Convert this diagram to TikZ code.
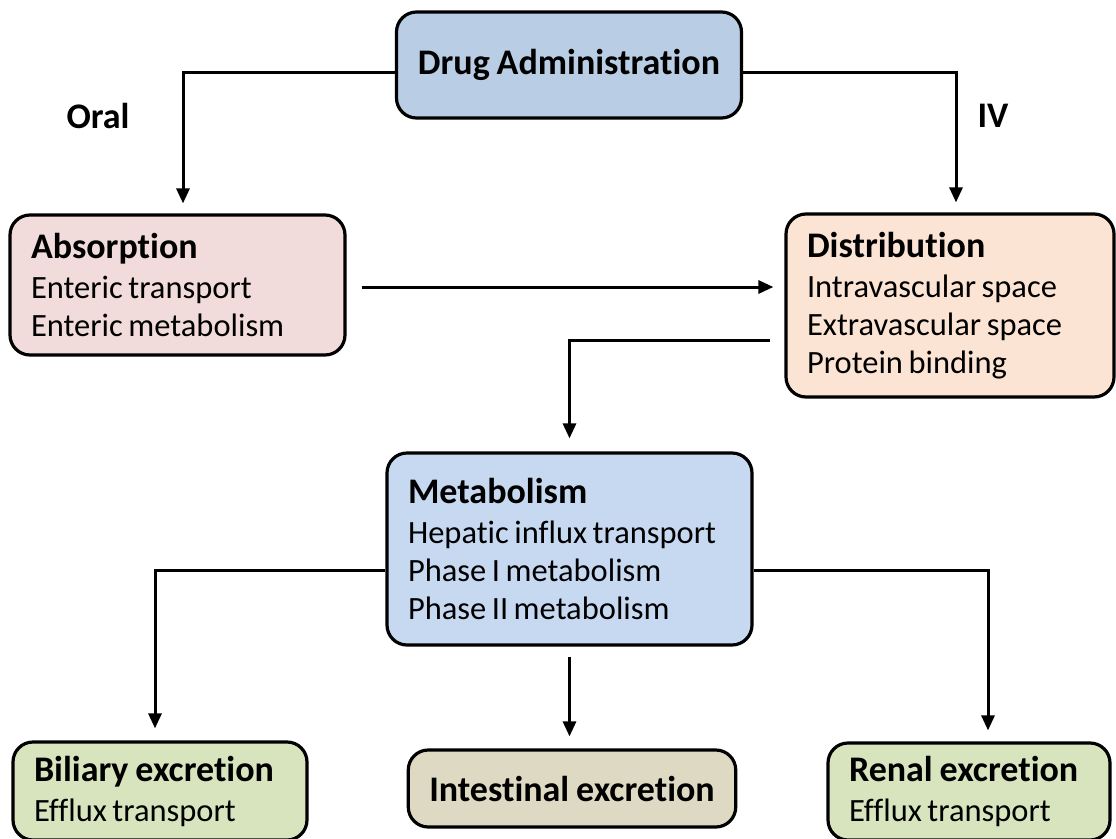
\documentclass[tikz,border=0pt]{standalone}
\usepackage{fontspec}
\setmainfont{Carlito}[Ligatures=NoCommon, WordSpace=0.85]
\usetikzlibrary{arrows.meta,calc}

\definecolor{admfill}{HTML}{B9CDE5}
\definecolor{absfill}{HTML}{F2DCDB}
\definecolor{disfill}{HTML}{FCE4D4}
\definecolor{metfill}{HTML}{C6D9F1}
\definecolor{excfill}{HTML}{D7E4BD}
\definecolor{intfill}{HTML}{DDD9C3}

\newcommand\dgtitle{\fontsize{36}{40}\selectfont\bfseries\spaceskip=0pt\xspaceskip=0pt\relax}
\newcommand\dgbody{\fontsize{32.5}{38}\selectfont}
% tight word spacing for the item lines of a box
\newcommand\tightsp{\spaceskip=0.17em\relax}

\begin{document}
\begin{tikzpicture}[x=1pt,y=-1pt,
  box/.style={draw=black, line width=3.2pt, rounded corners=20pt,
    inner xsep=21pt, inner ysep=0pt, align=left, font=\dgbody},
  headbox/.style={box, align=center, font=\dgtitle},
  flow/.style={line width=3pt, -{Triangle[length=15pt,width=13pt]}},
  lbl/.style={font=\dgtitle, inner sep=0pt}]

\useasboundingbox (0,0) rectangle (1116,838);

% boxes
\node[headbox, fill=admfill, minimum width=345pt, minimum height=106pt] (adm) at (569,65) {Drug Administration};

\node[box, fill=absfill, text width=293pt, minimum height=140pt] (abs) at (177.5,285)
  {\tightsp{\dgtitle Absorption}\\[2pt]Enteric transport\\Enteric metabolism};

\node[box, fill=disfill, text width=286pt, minimum height=183pt] (dis) at (950,305.5)
  {\tightsp{\dgtitle Distribution}\\[2pt]Intravascular space\\Extravascular space\\Protein binding};

\node[box, fill=metfill, text width=323pt, minimum height=192pt] (met) at (569.5,549)
  {\tightsp{\dgtitle Metabolism}\\[2pt]Hepatic influx transport\\Phase I metabolism\\Phase II metabolism};

\node[box, fill=excfill, text width=252pt, minimum height=98pt] (bil) at (160,791)
  {\tightsp{\dgtitle Biliary excretion}\\[2pt]Efflux transport};

\node[headbox, fill=intfill, minimum width=320pt, minimum height=77pt] (int) at (572,788.5) {Intestinal excretion};

\node[box, fill=excfill, text width=240pt, minimum height=97pt] (ren) at (969,791.5)
  {\tightsp{\dgtitle Renal excretion}\\[2pt]Efflux transport};

% route labels
\node[lbl] (oral) at (98,116) {Oral};
\node[lbl] (iv) at (993,116) {IV};

% bend points
\coordinate (admL) at ($(adm.west)+(0,7)$);
\coordinate (admR) at ($(adm.east)+(0,7)$);
\coordinate (disL) at ($(dis.west)+(-14,34.5)$);
\coordinate (metL) at ($(met.west)+(0,21)$);
\coordinate (metR) at ($(met.east)+(0,21)$);

% connectors
\draw[flow] (admL) -| ([yshift=10pt]abs.north -| 183,0);
\draw[flow] (admR) -| ([yshift=10pt]dis.north -| 956,0);
\draw[flow] ($(abs.east)+(15,2)$) -- ($(dis.west)+(-11,-18.5)$);
\draw[flow] (disL) -| ([yshift=13pt]met.north);
\draw[flow] (metL) -| ([yshift=12pt]bil.north -| 155,0);
\draw[flow] (metR) -| ([yshift=11pt]ren.north -| 988,0);
\draw[flow] ([yshift=-10pt]met.south) -- ([yshift=12pt]int.north -| met.south);

\end{tikzpicture}
\end{document}
